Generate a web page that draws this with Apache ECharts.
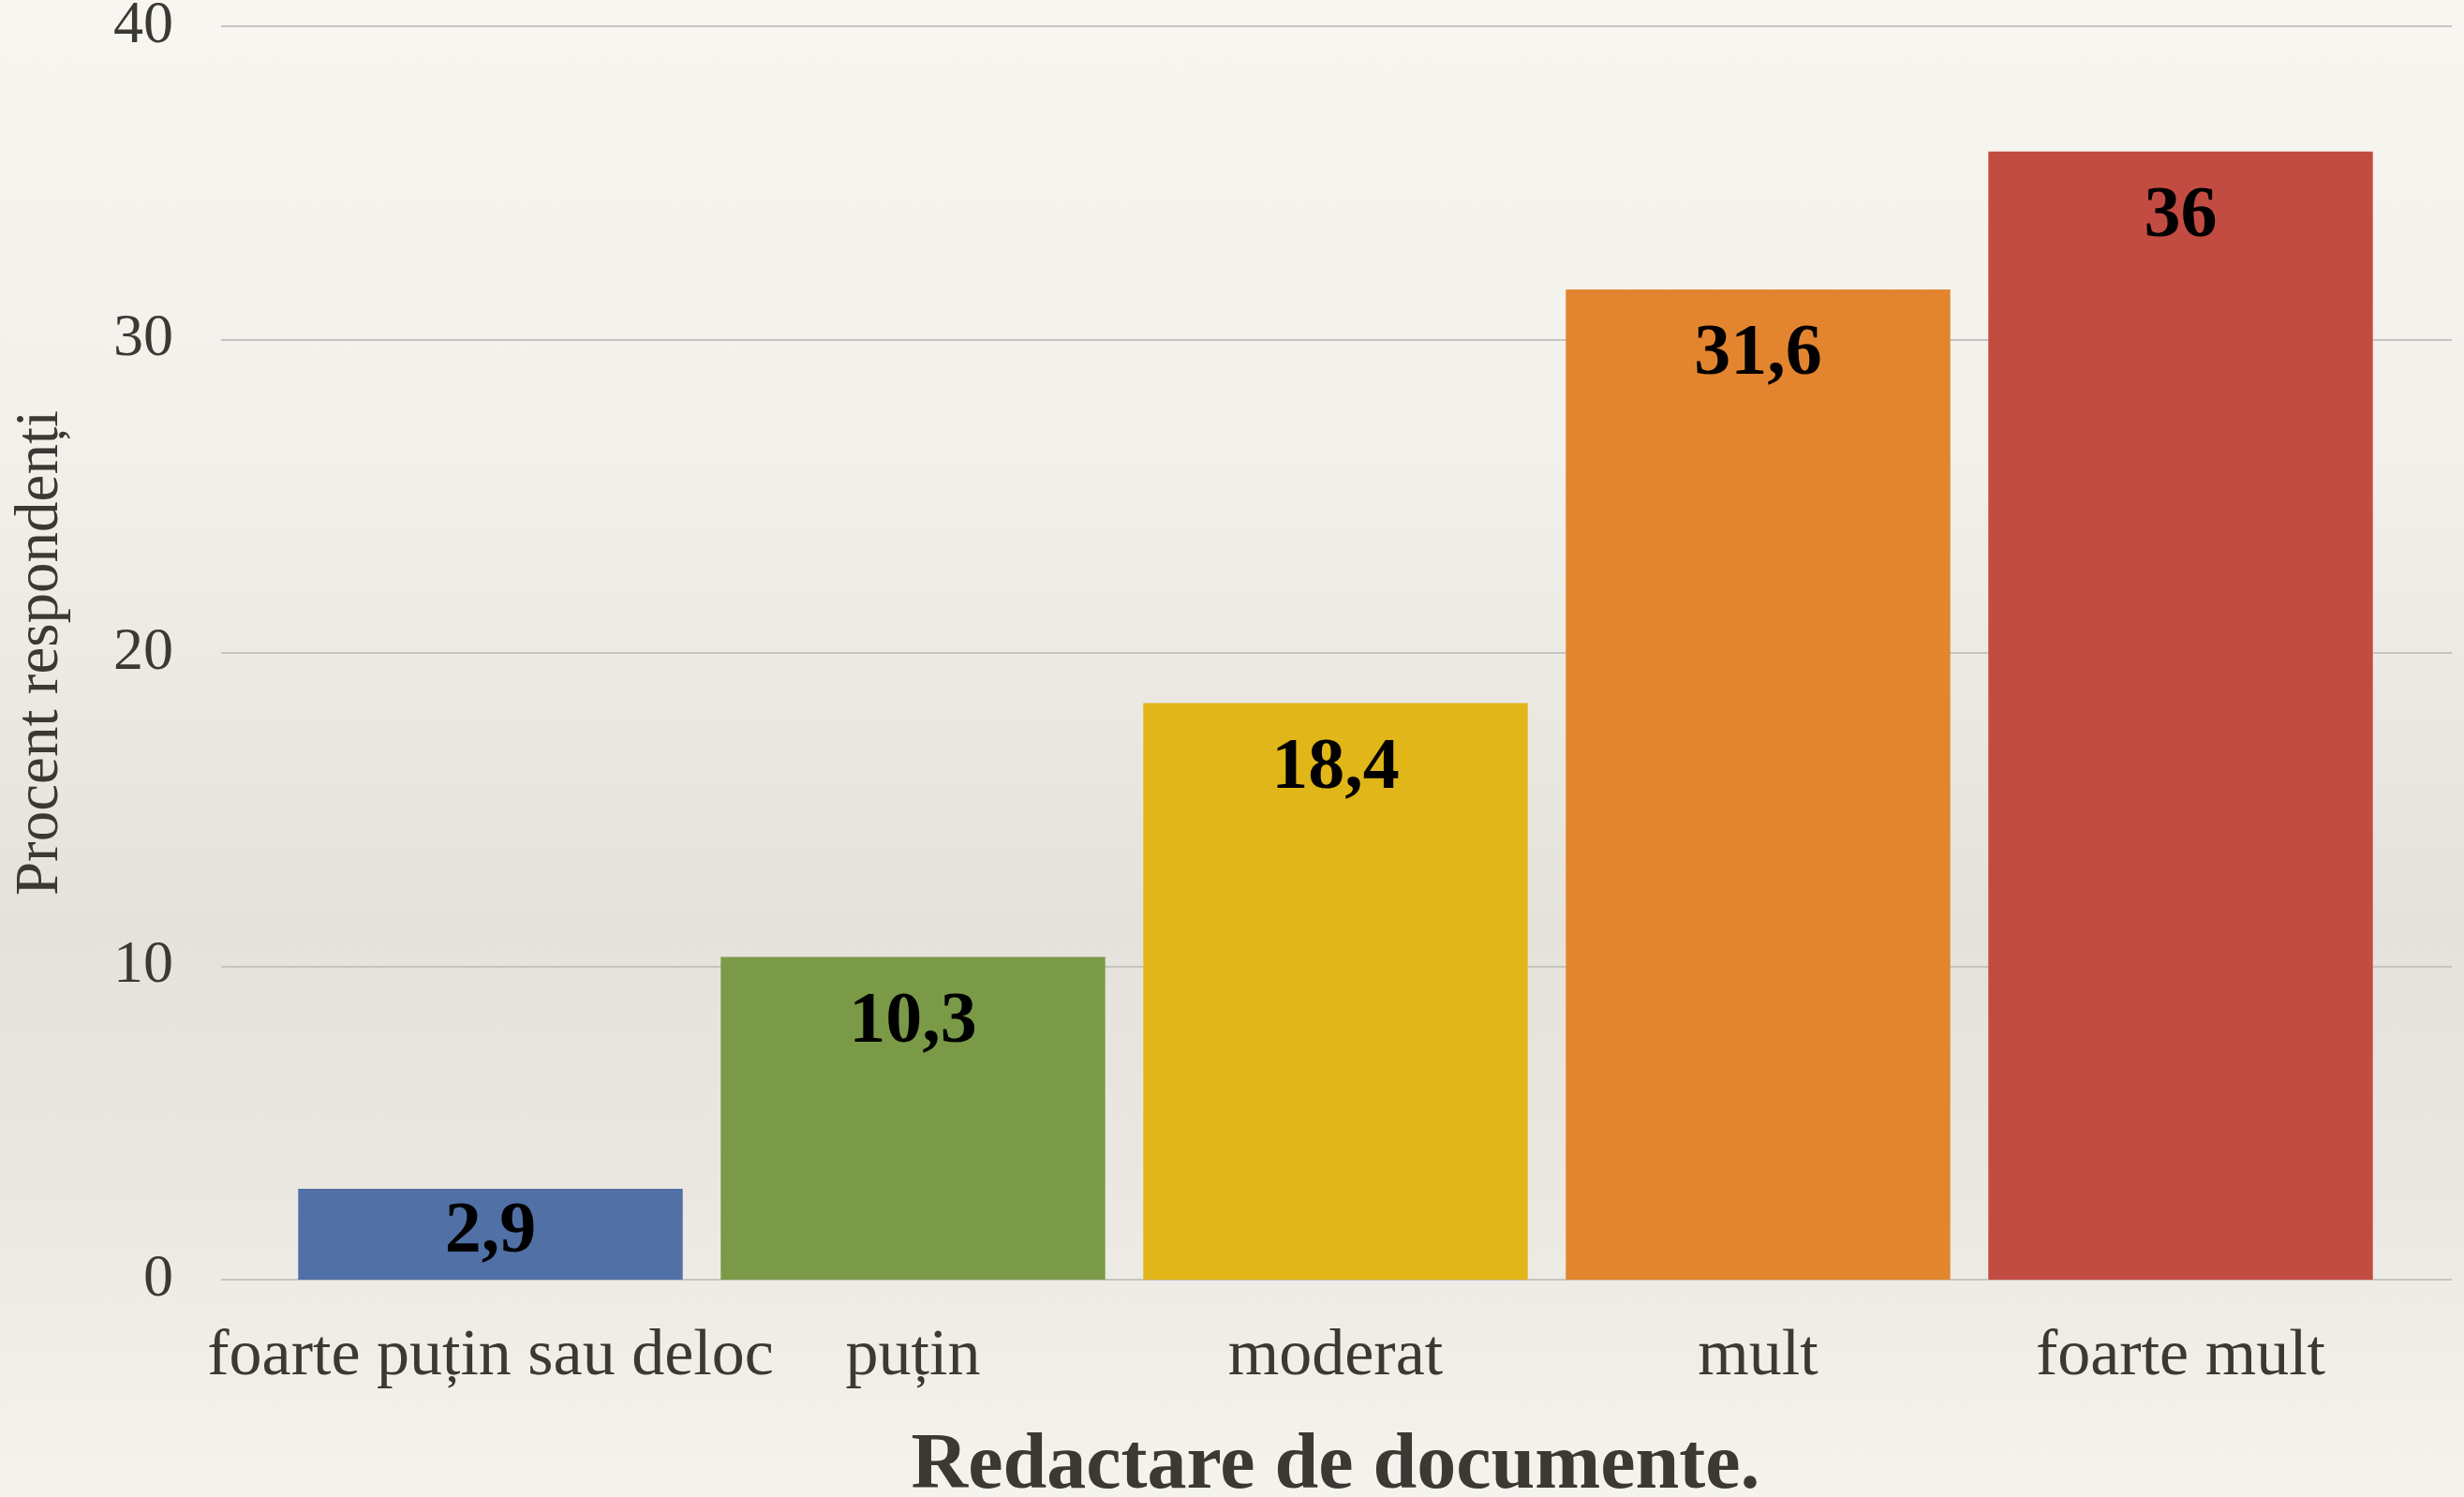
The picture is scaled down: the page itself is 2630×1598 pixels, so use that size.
<!DOCTYPE html>
<html>
<head>
<meta charset="utf-8">
<script src="https://cdn.jsdelivr.net/npm/echarts@6/dist/echarts.min.js"></script>
<style>
  html, body { margin: 0; padding: 0; }
  #main {
    width: 2630px; height: 1598px;
    background: linear-gradient(to bottom, #f8f6f0 0%, #f2f0ea 30%, #e5e2dc 62%, #ebe8e2 80%, #f5f3ed 100%);
  }
</style>
</head>
<body>
<div id="main"></div>
<script>
// categorii
var categories = ['foarte puțin sau deloc', 'puțin', 'moderat', 'mult', 'foarte mult'];
// procente
var values = [2.9, 10.3, 18.4, 31.6, 36];
// culori bare
var barColors = ['#5170a6', '#7b9a48', '#e1b619', '#e3852f', '#c34c42'];
// axa y
var yMin = 0, yMax = 40, yStep = 10;

var textColor = '#3b3934';
var fontFam = '"Liberation Serif", "DejaVu Serif", serif';

var myChart = echarts.init(document.getElementById('main'), null, {renderer: 'canvas'});

var barData = values.map(function (v, i) {
    var item = { value: v, itemStyle: { color: barColors[i] } };
    // bara mica: eticheta mai sus
    if (i === 0) item.label = { distance: 8 };
    return item;
});

var option = {
    backgroundColor: 'transparent',
    animation: false,
    grid: [
        // grila cu liniile orizontale
        { left: 236, right: 13, top: 28, bottom: 232, outerBoundsMode: 'none', containLabel: false },
        // barele
        { left: 298, right: 77, top: 28, bottom: 232, outerBoundsMode: 'none', containLabel: false }
    ],
    xAxis: [
        {
            gridIndex: 0,
            type: 'value',
            show: false
        },
        {
            gridIndex: 1,
            type: 'category',
            data: categories,
            axisLine: { show: false },
            axisTick: { show: false },
            axisLabel: {
                interval: 0,
                color: textColor,
                fontFamily: fontFam,
                fontSize: 70,
                margin: 48
            },
            name: 'Redactare de documente.',
            nameLocation: 'middle',
            nameGap: 158,
            nameTextStyle: {
                color: textColor,
                fontFamily: fontFam,
                fontWeight: 'bold',
                fontSize: 84
            }
        }
    ],
    yAxis: [
        {
            gridIndex: 0,
            type: 'value',
            min: yMin,
            max: yMax,
            interval: yStep,
            axisLine: { show: false },
            axisTick: { show: false },
            splitLine: { lineStyle: { color: '#c6c4c0', width: 2 } },
            axisLabel: {
                color: textColor,
                fontFamily: fontFam,
                fontSize: 64,
                margin: 51
            },
            name: 'Procent respondenți',
            nameLocation: 'middle',
            nameGap: 160,
            nameTextStyle: {
                color: textColor,
                fontFamily: fontFam,
                fontSize: 65
            }
        },
        {
            gridIndex: 1,
            type: 'value',
            min: yMin,
            max: yMax,
            interval: yStep,
            show: false
        }
    ],
    series: [
        {
            type: 'bar',
            xAxisIndex: 1,
            yAxisIndex: 1,
            data: barData,
            barCategoryGap: '9%',
            label: {
                show: true,
                position: 'insideTop',
                distance: 31,
                color: '#000',
                fontFamily: fontFam,
                fontWeight: 'bold',
                fontSize: 78,
                formatter: function (p) {
                    return String(p.value).replace('.', ',');
                }
            }
        }
    ]
};
myChart.setOption(option);
myChart.resize();
</script>
</body>
</html>
